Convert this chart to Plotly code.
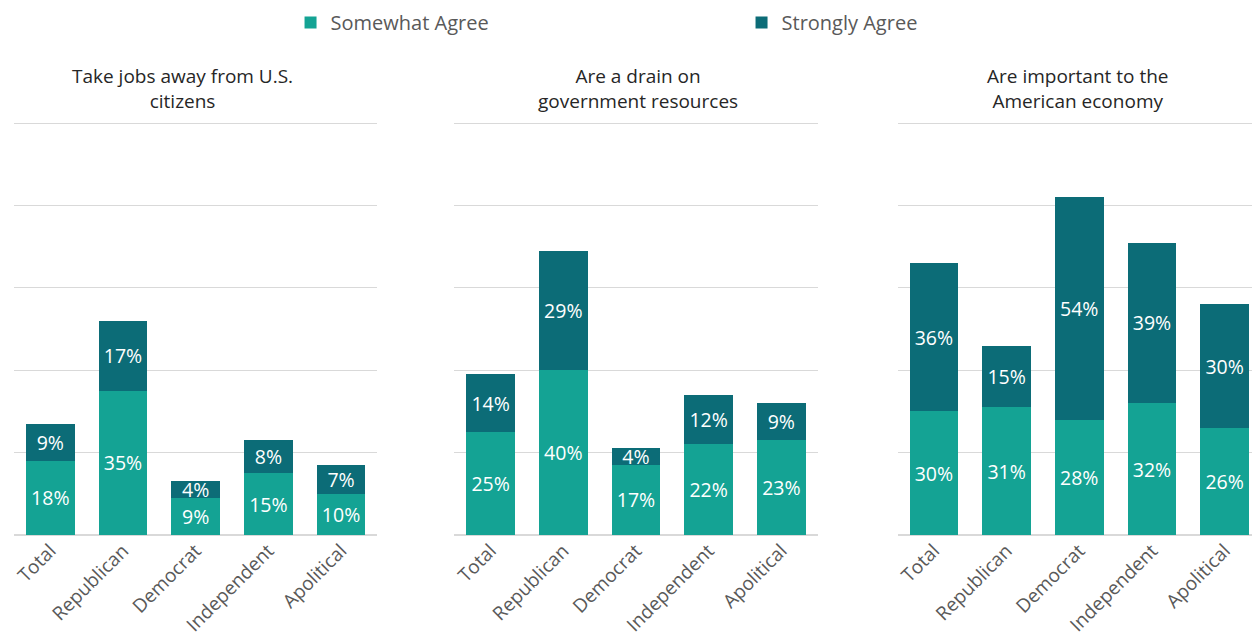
import plotly.graph_objects as go

categories = ["Total", "Republican", "Democrat", "Independent", "Apolitical"]
panel_titles = [
    "Take jobs away from U.S.<br>citizens",
    "Are a drain on<br>government resources",
    "Are important to the<br>American economy",
]
somewhat_agree = [
    [18, 35, 9, 15, 10],
    [25, 40, 17, 22, 23],
    [30, 31, 28, 32, 26],
]
strongly_agree = [
    [9, 17, 4, 8, 7],
    [14, 29, 4, 12, 9],
    [36, 15, 54, 39, 30],
]
series_names = ["Somewhat Agree", "Strongly Agree"]
colors = ["#14A394", "#0C6C77"]

W, H = 1252, 642
FONT = "Open Sans"

fig = go.Figure()
x_domains = [(12 / W, 376 / W), (453 / W, 817 / W), (897 / W, 1.0)]
x_ranges = [[-0.5, 4.5], [-0.5, 4.5], [-0.5, (1252 - 897) / 72.8 - 0.5]]
y_domain = [(H - 535) / H, (H - 121) / H]
title_x = [181, 637, 1078]

for i in range(3):
    ax = "" if i == 0 else str(i + 1)
    for s, vals in enumerate([somewhat_agree[i], strongly_agree[i]]):
        fig.add_trace(go.Bar(
            x=categories, y=vals, name=series_names[s],
            marker=dict(color=colors[s], line=dict(width=0)),
            text=[f"{v}%" for v in vals], textposition="inside",
            insidetextanchor="middle", textangle=0, constraintext="none",
            textfont=dict(color="white", size=19.5, family=FONT),
            xaxis="x" + ax, yaxis="y" + ax,
            showlegend=(i == 0), legendgroup=series_names[s],
            hoverinfo="skip",
        ))
    fig.layout["xaxis" + ax] = dict(
        domain=x_domains[i], range=x_ranges[i], anchor="y" + ax,
        tickangle=-45, tickfont=dict(size=19, color="#595959", family=FONT),
        showgrid=False, showline=False, ticks="", zeroline=False, fixedrange=True,
    )
    fig.layout["yaxis" + ax] = dict(
        domain=y_domain, range=[0, 100.5], anchor="x" + ax,
        tickvals=[0, 20, 40, 60, 80, 100],
        showticklabels=False, showgrid=True, gridcolor="#D9D9D9", gridwidth=1,
        zeroline=True, zerolinecolor="#D9D9D9", zerolinewidth=1.5,
        showline=False, ticks="", fixedrange=True,
    )
    fig.add_annotation(
        text=panel_titles[i], x=title_x[i] / W, y=1 - 88 / H,
        xref="paper", yref="paper", xanchor="center", yanchor="middle",
        showarrow=False, align="center",
        font=dict(size=19, color="#262626", family=FONT),
    )

fig.update_layout(
    width=W, height=H, barmode="stack", bargap=0.33,
    margin=dict(l=0, r=0, t=0, b=0),
    paper_bgcolor="white", plot_bgcolor="white",
    font=dict(family=FONT),
    legend=dict(
        orientation="h", x=289 / W, y=1 - 3 / H, xanchor="left", yanchor="top",
        font=dict(size=20, color="#595959", family=FONT),
        entrywidth=406, entrywidthmode="pixels", itemwidth=30,
        traceorder="normal", bgcolor="rgba(0,0,0,0)",
    ),
)

fig.write_html("out.html")
